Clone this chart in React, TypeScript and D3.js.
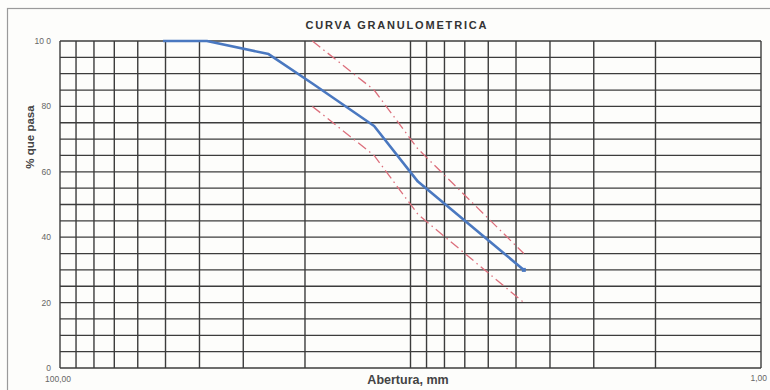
import React from 'react';
import * as d3 from 'd3';

// sieve openings (mm) and % passing
const sieveNames = ['2"', '1 1/2"', '1"', '3/4"', '1/2"', '3/8"', 'N°4'];
const openings = [50.8, 38.1, 25.4, 19.05, 12.7, 9.525, 4.75];
const passing = [100, 100, 96, 87, 74, 57, 30];

// specification band
const specOpenings = [19.05, 12.7, 9.525, 4.75];
const specUpper = [100, 85, 67, 35];
const specLower = [80, 65, 47, 20];

const yTicks = [0, 20, 40, 60, 80, 100];
const yTickLabels = ['0', '20', '40', '60', '80', '10 0'];
const xGrid = [100, 90, 80, 70, 60, 50, 40, 30, 20, 10, 9, 8, 7, 6, 5, 4, 3, 2, 1];
const yGrid = d3.range(0, 101, 5);

const W = 770;
const H = 390;
const margin = { top: 41, right: 9, bottom: 22, left: 60 };

const App = () => {
  const x = d3.scaleLog().domain([100, 1]).range([margin.left, W - margin.right]);
  const y = d3.scaleLinear().domain([0, 100]).range([H - margin.bottom, margin.top]);

  const curve = d3
    .line<number>()
    .x((d, i) => x(openings[i]))
    .y((d) => y(d));

  const spec = d3
    .line<number>()
    .x((d, i) => x(specOpenings[i]))
    .y((d) => y(d));

  const gridColor = '#3c3c3c';
  const red = '#dc6f7c';
  const blue = '#4a78c0';
  const last = passing.length - 1;

  return (
    <svg
      width={W}
      height={H}
      style={{ position: 'absolute', left: 0, top: 0, background: '#fdfdfb' }}
      fontFamily="Arial, 'Liberation Sans', sans-serif"
    >
      {/* frame */}
      <rect x={7.5} y={8.5} width={W} height={H} fill="none" stroke="#9a9a9a" strokeWidth={1.2} />

      <text
        x={396}
        y={29}
        textAnchor="middle"
        fontSize={11}
        fontWeight="bold"
        fill="#333"
        textLength={181}
        lengthAdjust="spacing"
      >
        CURVA GRANULOMETRICA
      </text>

      {/* grid */}
      {yGrid.map((v) => (
        <line
          key={'h' + v}
          x1={x(100)}
          x2={x(1)}
          y1={y(v)}
          y2={y(v)}
          stroke={gridColor}
          strokeWidth={1.3}
        />
      ))}
      {xGrid.map((v) => (
        <line
          key={'v' + v}
          x1={x(v)}
          x2={x(v)}
          y1={y(0)}
          y2={y(100)}
          stroke={gridColor}
          strokeWidth={1.4}
        />
      ))}

      {/* y ticks */}
      {yTicks.map((v, i) => (
        <text key={'yt' + v} x={51} y={y(v) + 3} textAnchor="end" fontSize={8.5} fill="#666">
          {yTickLabels[i]}
        </text>
      ))}
      <text x={45} y={382} fontSize={8.5} fill="#666">100,00</text>
      <text x={767} y={381} textAnchor="end" fontSize={8.5} fill="#666">1,00</text>

      <text
        transform={`translate(34, 137) rotate(-90)`}
        textAnchor="middle"
        fontSize={11.5}
        fontWeight="bold"
        fill="#444"
      >
        % que pasa
      </text>
      <text x={408} y={384} textAnchor="middle" fontSize={12.5} fontWeight="bold" fill="#444">
        Abertura, mm
      </text>

      {/* specification limits */}
      <path d={spec(specUpper) || ''} fill="none" stroke={red} strokeWidth={1.3} strokeDasharray="10,4,1.5,4" />
      <path d={spec(specLower) || ''} fill="none" stroke={red} strokeWidth={1.3} strokeDasharray="10,4,1.5,4" />

      {/* grading curve */}
      <path d={curve(passing) || ''} fill="none" stroke={blue} strokeWidth={2.6} strokeLinejoin="round" />
      <rect
        key={sieveNames[last]}
        x={x(openings[last]) - 2}
        y={y(passing[last]) - 2}
        width={4}
        height={4}
        fill={blue}
      />
    </svg>
  );
};

export default App;
